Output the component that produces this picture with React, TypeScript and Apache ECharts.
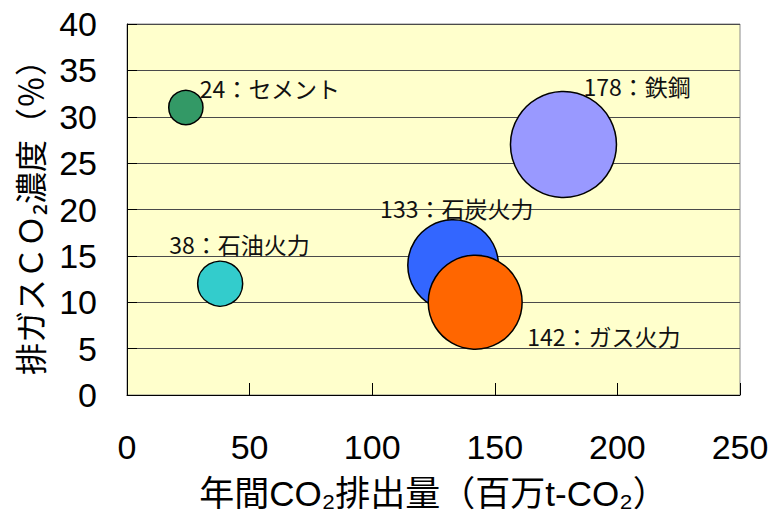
import React, { useEffect, useRef } from "react";
import * as echarts from "echarts";

// Industrial CO2 sources: annual emissions vs. flue-gas CO2 concentration
const sectors = ["セメント", "石油火力", "石炭火力", "ガス火力", "鉄鋼"];
const emissions = [24, 38, 133, 142, 178]; // 百万t-CO2 (also bubble size)
const concentrations = [31, 12, 14, 10, 27]; // %
const bubbleColors = ["#339966", "#33CCCC", "#3366FF", "#FF6600", "#9999FF"];
// label anchor relative to bubble centre: [left edge dx, middle dy]
const labelOffsets: [number, number][] = [
  [14, -19],
  [-51, -40],
  [-73, -57],
  [52, 34],
  [20, -59],
];

const CJK = "'Noto Sans CJK JP', 'Noto Sans', sans-serif";
const LATIN = "'Liberation Sans', Arial, sans-serif";
const MIXED = "'Liberation Sans', 'Noto Sans CJK JP', sans-serif";

export default function App() {
  const ref = useRef<HTMLDivElement>(null);

  useEffect(() => {
    if (!ref.current) return;
    const chart = echarts.init(ref.current, null, { renderer: "svg" });

    const data = sectors.map((name, i) => ({
      name,
      value: [emissions[i], concentrations[i], emissions[i]],
      itemStyle: { color: bubbleColors[i] },
      label: { offset: labelOffsets[i] },
    }));

    chart.setOption({
      animation: false,
      backgroundColor: "#ffffff",
      grid: {
        left: 127,
        right: 32,
        top: 24,
        bottom: 124,
        show: true,
        backgroundColor: "#FFFFCC",
        borderColor: "#8a8a8a",
        borderWidth: 1,
      },
      xAxis: {
        type: "value",
        min: 0,
        max: 250,
        interval: 50,
        name: "年間CO₂排出量（百万t-CO₂）",
        nameLocation: "middle",
        nameGap: 81,
        nameTextStyle: { fontSize: 35, fontFamily: MIXED, color: "#000" },
        axisLine: { show: true, lineStyle: { color: "#000", width: 1 } },
        axisTick: { show: true, inside: true, length: 12, lineStyle: { color: "#000" } },
        axisLabel: { fontSize: 34, fontFamily: LATIN, color: "#000", margin: 35 },
        splitLine: { show: false },
      },
      yAxis: {
        type: "value",
        min: 0,
        max: 40,
        interval: 5,
        name: "排ガスＣＯ₂濃度（％）",
        nameLocation: "middle",
        nameRotate: 90,
        nameGap: 82,
        nameTextStyle: { fontSize: 32, fontFamily: CJK, color: "#000" },
        axisLine: { show: true, lineStyle: { color: "#000", width: 1 } },
        axisTick: { show: true, inside: true, length: 10, lineStyle: { color: "#000" } },
        axisLabel: {
          fontSize: 34,
          fontFamily: LATIN,
          color: "#000",
          margin: 30,
          padding: [10, 0, 0, 0],
        },
        splitLine: { show: true, lineStyle: { color: "#4a4a4a", width: 1 } },
      },
      series: [
        {
          type: "scatter",
          data,
          symbol: "circle",
          symbolSize: (val: number[]) => 8.5 * Math.sqrt(val[2]) - 7.4,
          itemStyle: { borderColor: "#000", borderWidth: 1.5, opacity: 1 },
          label: {
            show: true,
            position: "inside",
            align: "left",
            verticalAlign: "middle",
            fontSize: 23,
            fontFamily: CJK,
            color: "#111",
            textBorderWidth: 0,
            formatter: (p: any) => `${p.value[2]}：${p.name}`,
          },
          emphasis: { disabled: true },
        },
      ],
    });

    return () => chart.dispose();
  }, []);

  return (
    <div
      ref={ref}
      style={{ position: "fixed", left: 0, top: 0, width: 772, height: 519 }}
    />
  );
}
